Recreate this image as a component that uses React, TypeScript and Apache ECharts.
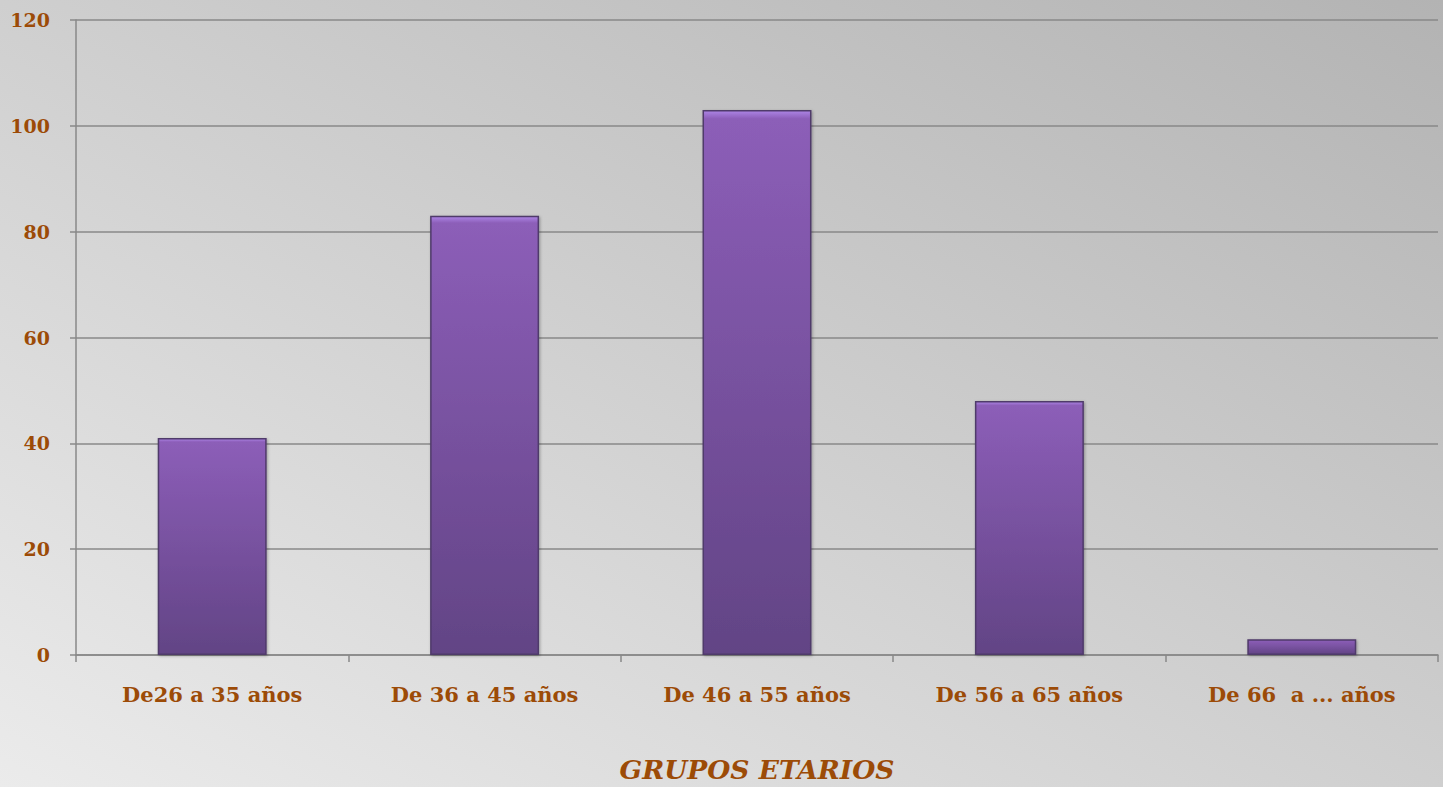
import React, { useEffect, useRef } from "react";
import * as echarts from "echarts";

const categories = ["De26 a 35 años", "De 36 a 45 años", "De 46 a 55 años", "De 56 a 65 años", "De 66  a ... años"];
const values = [41, 83, 103, 48, 3];
const yTicks = [0, 20, 40, 60, 80, 100, 120];
const axisTitle = "GRUPOS ETARIOS";

const brown = "#9c4b07";
const font = "DejaVu Serif";

export default function App() {
  const ref = useRef<HTMLDivElement>(null);
  useEffect(() => {
    document.body.style.margin = "0";
    document.body.style.overflow = "hidden";
    const chart = echarts.init(ref.current!, null, { renderer: "svg" });
    chart.setOption({
      animation: false,
      backgroundColor: new echarts.graphic.LinearGradient(1, 0, 0, 1, [
        { offset: 0, color: "#b3b3b3" },
        { offset: 1, color: "#ebebeb" },
      ]),
      grid: { left: 76, right: 5, top: 20, bottom: 132, outerBoundsMode: "none", containLabel: false },
      xAxis: {
        type: "category",
        data: categories,
        name: axisTitle,
        nameLocation: "middle",
        nameGap: 101,
        nameMoveOverlap: false,
        nameTextStyle: { color: brown, fontFamily: font, fontWeight: "bold", fontStyle: "italic", fontSize: 26.5 },
        axisLine: { lineStyle: { color: "#888", width: 1.5 } },
        axisTick: { show: true, length: 7, lineStyle: { color: "#888", width: 1.5 } },
        axisLabel: { color: brown, fontFamily: font, fontWeight: "bold", fontSize: 21, margin: 29 },
      },
      yAxis: {
        type: "value",
        min: yTicks[0],
        max: yTicks[yTicks.length - 1],
        interval: yTicks[1] - yTicks[0],
        axisLine: { show: true, lineStyle: { color: "#888", width: 1.5 } },
        axisTick: { show: true, length: 6, lineStyle: { color: "#888", width: 1.5 } },
        splitLine: { lineStyle: { color: "#888", width: 1.5 } },
        axisLabel: { color: brown, fontFamily: font, fontWeight: "bold", fontSize: 19, margin: 26 },
      },
      series: [
        {
          type: "bar",
          data: values,
          barWidth: "40%",
          itemStyle: {
            color: new echarts.graphic.LinearGradient(0, 0, 0, 1, [
              { offset: 0, color: "#ad85e6" },
              { offset: 0.015, color: "#8c5eb8" },
              { offset: 1, color: "#624485" },
            ]),
            borderColor: "#4f3a6a",
            borderWidth: 1.5,
            shadowColor: "rgba(0,0,0,0.3)",
            shadowBlur: 3,
            shadowOffsetX: 1,
            shadowOffsetY: 1,
          },
        },
      ],
    });
    return () => chart.dispose();
  }, []);
  return (
    <div
      ref={ref}
      style={{ position: "absolute", left: 0, top: 0, width: 1443, height: 787 }}
    />
  );
}
